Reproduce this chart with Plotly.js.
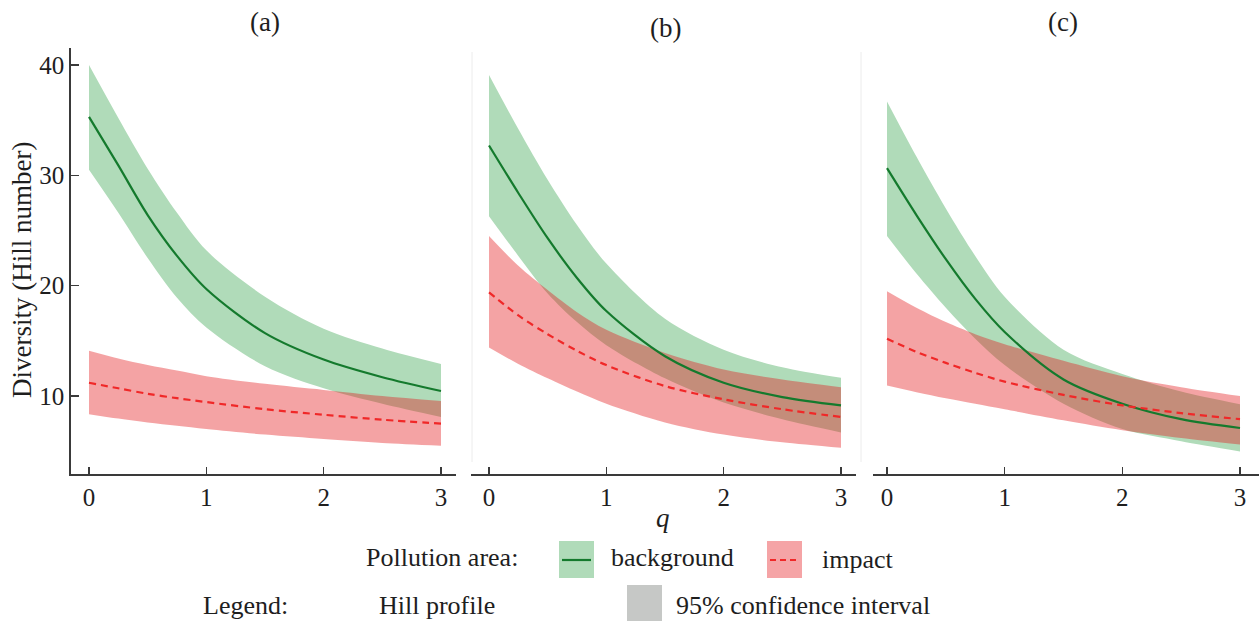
<!DOCTYPE html>
<html>
<head>
<meta charset="utf-8">
<script src="https://cdn.plot.ly/plotly-3.0.1.min.js"></script>
<style>html,body{margin:0;padding:0;background:#fff;}#chart{width:1259px;height:621px;}
#chart text{font-family:'Liberation Serif', serif !important;}</style>
</head>
<body>
<div id="chart"></div>
<script>
// ---- data ----
const q = [0, 0.25, 0.5, 0.75, 1, 1.5, 2, 2.5, 3];
const panelLabels = ["(a)", "(b)", "(c)"];
const yTicks = [10, 20, 30, 40];
const xTicks = [0, 1, 2, 3];

// panel (a)
const aBgMean  = [35.3, 30.9, 26.4, 22.7, 19.7, 15.7, 13.3, 11.7, 10.45];
const aBgUpper = [40.0, 35.2, 30.6, 26.6, 23.2, 19.0, 16.1, 14.3, 12.9];
const aBgLower = [30.5, 26.6, 22.5, 18.9, 16.2, 12.7, 10.7, 9.3, 8.1];
const aImMean  = [11.2, 10.7, 10.2, 9.8, 9.45, 8.8, 8.3, 7.85, 7.5];
const aImUpper = [14.1, 13.4, 12.8, 12.3, 11.8, 11.1, 10.55, 10.0, 9.55];
const aImLower = [8.35, 7.95, 7.6, 7.3, 7.0, 6.5, 6.1, 5.75, 5.5];

// panel (b)
const bBgMean  = [32.7, 28.4, 24.3, 20.7, 17.7, 13.6, 11.2, 9.9, 9.15];
const bBgUpper = [39.1, 34.2, 29.6, 25.5, 22.0, 17.0, 14.2, 12.6, 11.65];
const bBgLower = [26.3, 22.7, 19.3, 16.7, 14.6, 11.6, 9.4, 7.9, 6.7];
const bImMean  = [19.4, 17.3, 15.6, 14.1, 12.8, 10.9, 9.7, 8.8, 8.1];
const bImUpper = [24.5, 21.8, 19.6, 17.6, 16.0, 13.9, 12.4, 11.5, 10.8];
const bImLower = [14.4, 12.9, 11.6, 10.4, 9.3, 7.6, 6.5, 5.8, 5.3];

// panel (c)
const cBgMean  = [30.65, 26.4, 22.4, 18.8, 15.8, 11.5, 9.3, 7.9, 7.1];
const cBgUpper = [36.7, 31.7, 27.0, 22.7, 19.0, 14.2, 12.0, 10.4, 9.25];
const cBgLower = [24.5, 21.1, 18.0, 15.2, 12.8, 9.3, 7.0, 5.9, 4.97];
const cImMean  = [15.2, 14.0, 13.0, 12.1, 11.3, 10.1, 9.15, 8.45, 7.9];
const cImUpper = [19.5, 18.0, 16.7, 15.6, 14.7, 13.2, 11.8, 10.8, 10.0];
const cImLower = [10.95, 10.35, 9.8, 9.3, 8.8, 7.8, 6.9, 6.2, 5.6];

// ---- styling ----
const W = 1259, H = 621;
const SERIF = "Liberation Serif";
const GREEN_FILL = "rgb(176,219,185)";
const RED_FILL = "rgba(228,26,28,0.4)";
const GREEN_LINE = "rgb(20,122,45)";
const RED_LINE = "rgb(240,40,40)";
const AXIS_COL = "#3a3a3a";
const TEXT_COL = "#1e1e1e";

const px = x => x / W;
const py = y => 1 - y / H;

const panels = [
  {bg: [aBgLower, aBgUpper, aBgMean], im: [aImLower, aImUpper, aImMean], dom: [71, 456], zero: 89, three: 441},
  {bg: [bBgLower, bBgUpper, bBgMean], im: [bImLower, bImUpper, bImMean], dom: [471, 856], zero: 489, three: 841},
  {bg: [cBgLower, cBgUpper, cBgMean], im: [cImLower, cImUpper, cImMean], dom: [873, 1259], zero: 887, three: 1240}
];

const traces = [];
const layout = {
  width: W, height: H,
  margin: {l: 0, r: 0, t: 0, b: 0},
  paper_bgcolor: "#fff", plot_bgcolor: "rgba(0,0,0,0)",
  showlegend: false,
  annotations: [], shapes: []
};

// y axis geometry: 10 at py 396, 40 at py 65; plot from py 48 to 474
const yPer = (396 - 65) / 30;
const yBottom = 10 - (474 - 396) / yPer;
const yTop = 40 + (65 - 48) / yPer;

panels.forEach((p, i) => {
  const n = i === 0 ? "" : String(i + 1);
  const xa = "x" + n, ya = "y" + n;
  const per = (p.three - p.zero) / 3;
  const xr = [(p.dom[0] - p.zero) / per, (p.dom[1] - p.zero) / per];
  layout["xaxis" + n] = {
    domain: [px(p.dom[0]), px(p.dom[1])], range: xr, anchor: ya,
    tickvals: xTicks, ticktext: xTicks.map(String),
    ticks: "inside", ticklen: 7, tickwidth: 1.3, tickcolor: AXIS_COL,
    showline: true, linecolor: AXIS_COL, linewidth: 1.5,
    showgrid: false, zeroline: false, fixedrange: true,
    tickfont: {family: SERIF, size: 25, color: TEXT_COL}
  };
  layout["yaxis" + n] = {
    domain: [py(474), py(48)], range: [yBottom, yTop], anchor: xa,
    tickvals: yTicks, ticktext: yTicks.map(String),
    ticks: i === 0 ? "inside" : "", ticklen: 8, tickwidth: 1.3, tickcolor: AXIS_COL,
    showticklabels: i === 0,
    showline: i === 0, linecolor: AXIS_COL, linewidth: 1.8,
    showgrid: false, zeroline: false, fixedrange: true,
    tickfont: {family: SERIF, size: 25, color: TEXT_COL}
  };
  const common = {xaxis: xa, yaxis: ya, type: "scatter", mode: "lines", hoverinfo: "skip"};
  const ln = {width: 0, shape: "spline", smoothing: 0.9};
  traces.push(Object.assign({}, common, {x: q, y: p.bg[0], line: ln}));
  traces.push(Object.assign({}, common, {x: q, y: p.bg[1], line: ln, fill: "tonexty", fillcolor: GREEN_FILL}));
  traces.push(Object.assign({}, common, {x: q, y: p.im[0], line: ln}));
  traces.push(Object.assign({}, common, {x: q, y: p.im[1], line: ln, fill: "tonexty", fillcolor: RED_FILL}));
  traces.push(Object.assign({}, common, {x: q, y: p.bg[2], line: {width: 2.2, color: GREEN_LINE, shape: "spline", smoothing: 0.9}}));
  traces.push(Object.assign({}, common, {x: q, y: p.im[2], line: {width: 2.2, color: RED_LINE, dash: "7px,5px", shape: "spline", smoothing: 0.9}}));
});

// faint separator lines seen in the reference
layout.shapes.push({type: "line", xref: "paper", yref: "paper", x0: px(472), x1: px(472), y0: py(52), y1: py(462), line: {color: "#ececec", width: 1}});
layout.shapes.push({type: "line", xref: "paper", yref: "paper", x0: px(861), x1: px(861), y0: py(52), y1: py(462), line: {color: "#ececec", width: 1}});

// panel titles
const titlePos = [[265, 22], [665, 28], [1063, 22]];
panelLabels.forEach((t, i) => {
  layout.annotations.push({text: t, xref: "paper", yref: "paper", x: px(titlePos[i][0]), y: py(titlePos[i][1]),
    xanchor: "center", yanchor: "middle", showarrow: false, font: {family: SERIF, size: 27, color: TEXT_COL}});
});

// axis titles
layout.annotations.push({text: "<i>q</i>", xref: "paper", yref: "paper", x: px(663), y: py(518),
  xanchor: "center", yanchor: "middle", showarrow: false, font: {family: SERIF, size: 27, color: TEXT_COL}});
layout.annotations.push({text: "Diversity (Hill number)", xref: "paper", yref: "paper", x: px(22), y: py(270),
  xanchor: "center", yanchor: "middle", textangle: -90, showarrow: false, font: {family: SERIF, size: 27, color: TEXT_COL}});

// custom legend
const legFont = {family: SERIF, size: 26, color: TEXT_COL};
const addText = (t, x, y, anchor) => layout.annotations.push({text: t, xref: "paper", yref: "paper", x: px(x), y: py(y),
  xanchor: anchor, yanchor: "middle", showarrow: false, font: legFont});
addText("Pollution area:", 520, 557, "right");
addText("background", 609, 557, "left");
addText("impact", 820, 559, "left");
addText("Legend:", 201, 605, "left");
addText("Hill profile", 377, 605, "left");
addText("95% confidence interval", 674, 605, "left");

const rect = (x0, x1, y0, y1, col) => layout.shapes.push({type: "rect", xref: "paper", yref: "paper",
  x0: px(x0), x1: px(x1), y0: py(y1), y1: py(y0), fillcolor: col, line: {width: 0}});
rect(559, 594, 541, 578, GREEN_FILL);
rect(767, 802, 541, 578, "rgb(245,164,166)");
rect(627, 662, 585, 622, "rgb(198,200,198)");
layout.shapes.push({type: "line", xref: "paper", yref: "paper", x0: px(562), x1: px(591), y0: py(560), y1: py(560), line: {color: GREEN_LINE, width: 2.2}});
layout.shapes.push({type: "line", xref: "paper", yref: "paper", x0: px(770), x1: px(800), y0: py(560), y1: py(560), line: {color: RED_LINE, width: 2.2, dash: "6px,4px"}});

const cfg = {staticPlot: true, displayModeBar: false};
Plotly.newPlot("chart", traces, layout, cfg);
</script>
</body>
</html>
